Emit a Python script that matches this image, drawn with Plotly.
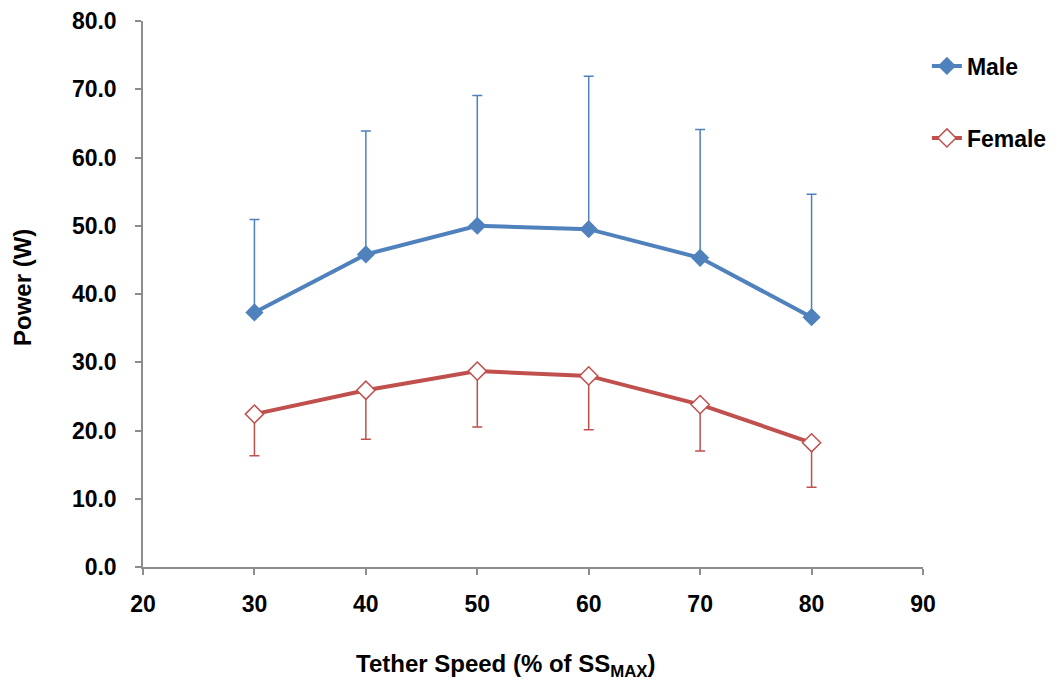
import plotly.graph_objects as go

# Tether speed (% of SS max)
speed = [30, 40, 50, 60, 70, 80]

# Mean power (W) and one-sided SD
male_power = [37.3, 45.8, 50.0, 49.5, 45.3, 36.6]
male_sd = [13.6, 18.1, 19.1, 22.4, 18.8, 18.0]
female_power = [22.4, 25.9, 28.7, 28.0, 23.8, 18.2]
female_sd = [6.1, 7.2, 8.2, 7.9, 6.8, 6.5]

y_ticks = [0, 10, 20, 30, 40, 50, 60, 70, 80]
y_tick_labels = [f"{v:.1f}" for v in y_ticks]
x_ticks = [20, 30, 40, 50, 60, 70, 80, 90]

BLUE = "#4F81BD"
RED = "#C0504D"
FONT = "Liberation Sans, Arial, sans-serif"

fig = go.Figure()

fig.add_trace(go.Scatter(
    x=speed, y=male_power, name="Male", mode="lines+markers",
    line=dict(color=BLUE, width=4),
    marker=dict(symbol="diamond", size=14, color=BLUE),
    error_y=dict(type="data", symmetric=False, array=male_sd,
                 arrayminus=[0] * len(male_sd),
                 color=BLUE, thickness=1.5, width=5),
    legend="legend",
))

fig.add_trace(go.Scatter(
    x=speed, y=female_power, name="Female", mode="lines+markers",
    line=dict(color=RED, width=4),
    marker=dict(symbol="diamond", size=14, color="white",
                line=dict(color=RED, width=1.5)),
    error_y=dict(type="data", symmetric=False, array=[0] * len(female_sd),
                 arrayminus=female_sd,
                 color=RED, thickness=1.5, width=5),
    legend="legend2",
))

axis_common = dict(
    showgrid=False, zeroline=False, showline=True,
    linecolor="#8c8c8c", linewidth=1.5,
    ticks="outside", tickcolor="#8c8c8c", ticklen=6, tickwidth=1.5,
    tickfont=dict(family=FONT, size=23, color="black", weight="bold"),
    automargin=False,
)

legend_common = dict(
    x=1.005, xanchor="left", yanchor="middle",
    font=dict(family=FONT, size=23, color="black", weight="bold"),
    bgcolor="rgba(0,0,0,0)", itemwidth=30,
)

fig.update_layout(
    width=1062, height=682,
    margin=dict(l=143, r=139, t=21, b=115, autoexpand=False),
    paper_bgcolor="white", plot_bgcolor="white",
    font=dict(family=FONT, color="black"),
    xaxis=dict(range=[20, 90], tickvals=x_ticks, ticklabelstandoff=10,
               **axis_common),
    yaxis=dict(range=[0, 80], tickvals=y_ticks, ticktext=y_tick_labels,
               ticklabelstandoff=14, **axis_common),
    legend=dict(y=(567 - 66) / 546, **legend_common),
    legend2=dict(y=(567 - 138) / 546, **legend_common),
    showlegend=True,
)

fig.add_annotation(
    text="<b>Tether Speed (% of SS<sub>MAX</sub>)</b>",
    xref="paper", yref="paper", x=(506 - 143) / 780, y=-(665 - 567) / 546,
    xanchor="center", yanchor="middle", showarrow=False,
    font=dict(family=FONT, size=24, color="black"),
)
fig.add_annotation(
    text="<b>Power (W)</b>",
    xref="paper", yref="paper", x=-(143 - 22) / 780, y=(567 - 288) / 546,
    xanchor="center", yanchor="middle", textangle=-90, showarrow=False,
    font=dict(family=FONT, size=24, color="black"),
)

fig.write_html("out.html")
